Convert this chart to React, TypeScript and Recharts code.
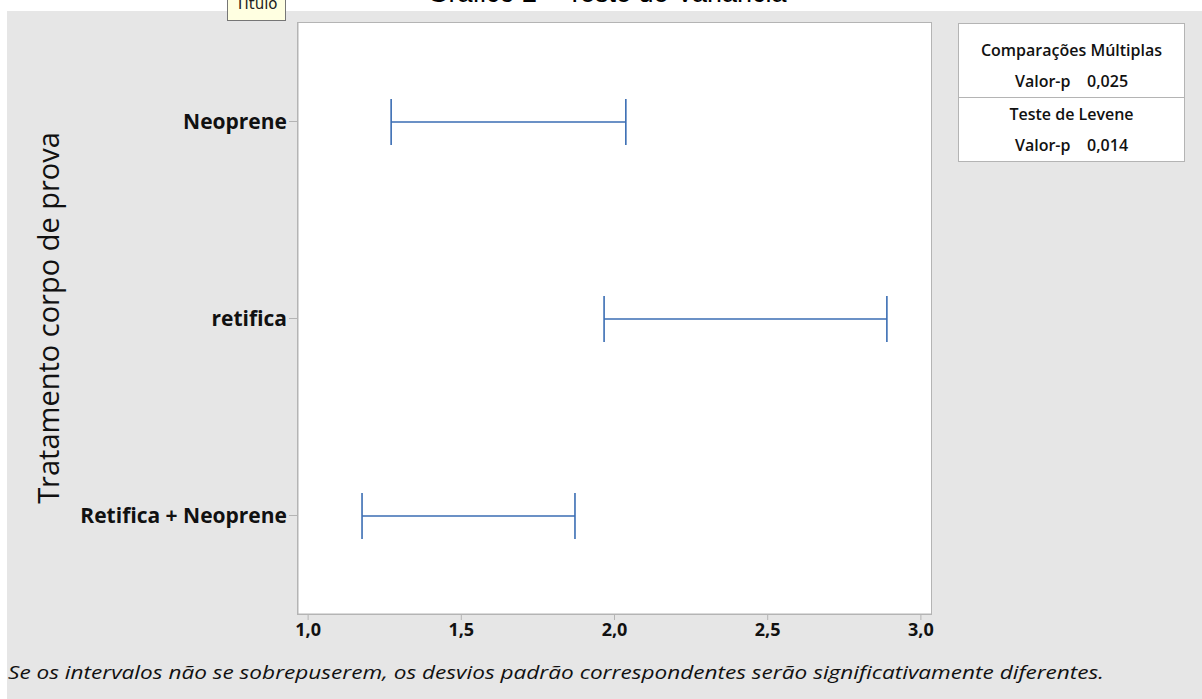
import React from "react";
import { ComposedChart, Bar, XAxis, YAxis } from "recharts";

// Intervalos de comparações múltiplas (desvio padrão)
const categories = ["Neoprene", "retifica", "Retifica + Neoprene"];
const lowerBounds = [1.271, 1.966, 1.176];
const upperBounds = [2.037, 2.889, 1.871];
const xTicks = [1.0, 1.5, 2.0, 2.5, 3.0];

const data = categories.map((name, i) => ({
  name,
  range: [lowerBounds[i], upperBounds[i]],
}));

const BLUE = "#3a6db3";
const FRAME = "#b4b4b4";
const FONT = "'Open Sans', 'Noto Sans', sans-serif";

/** Horizontal interval with end caps, drawn from the bar's geometry. */
function IntervalShape(props: any) {
  const { x, y, width, height } = props;
  const cy = y + height / 2;
  return (
    <g stroke={BLUE} strokeWidth={1.6} fill="none">
      <line x1={x} x2={x + width} y1={cy} y2={cy} />
      <line x1={x} x2={x} y1={y} y2={y + height} />
      <line x1={x + width} x2={x + width} y1={y} y2={y + height} />
    </g>
  );
}

const fmt = (v: number) => v.toFixed(1).replace(".", ",");

export default function App() {
  return (
    <div
      style={{
        position: "absolute",
        left: 0,
        top: 0,
        width: 1202,
        height: 699,
        background: "#fff",
        overflow: "hidden",
        fontFamily: FONT,
      }}
    >
      {/* gray panel */}
      <div
        style={{
          position: "absolute",
          left: 7,
          top: 11,
          width: 1195,
          height: 688,
          background: "#e6e6e6",
        }}
      />
      {/* title, cut off at top */}
      <div
        style={{
          position: "absolute",
          left: 0,
          width: 1202,
          top: -22,
          textAlign: "center",
          fontFamily: "'Liberation Sans', Arial, sans-serif",
          fontSize: 27,
          color: "#000",
          lineHeight: "30px",
          paddingLeft: 12,
          boxSizing: "border-box",
        }}
      >
        Gráfico 2 – Teste de Variância
      </div>
      {/* tooltip */}
      <div
        style={{
          position: "absolute",
          left: 227,
          top: -2,
          width: 59,
          height: 23,
          boxSizing: "border-box",
          background: "#ffffe1",
          border: "1px solid #767676",
          fontFamily: "'DejaVu Sans', sans-serif",
          fontSize: 15,
          lineHeight: "15px",
          textAlign: "center",
          color: "#222",
          overflow: "hidden",
        }}
      >
        <div style={{ marginTop: -2 }}>Título</div>
      </div>
      {/* plot frame */}
      <div
        style={{
          position: "absolute",
          left: 297,
          top: 22,
          width: 635,
          height: 593,
          boxSizing: "border-box",
          background: "#fff",
          border: `1px solid ${FRAME}`,
        }}
      />
      <div style={{ position: "absolute", left: 0, top: 0 }}>
        <ComposedChart
          width={1202}
          height={699}
          data={data}
          layout="vertical"
          margin={{ top: 23, right: 271, bottom: 55, left: 38 }}
        >
          <XAxis
            type="number"
            domain={[0.967, 3.033]}
            ticks={xTicks}
            allowDataOverflow
            tickFormatter={fmt}
            height={30}
            axisLine={{ stroke: FRAME }}
            tickLine={{ stroke: FRAME }}
            tickSize={6}
            tickMargin={3}
            tick={{ fill: "#111", fontSize: 18, fontWeight: 700, fontFamily: FONT }}
          />
          <YAxis
            type="category"
            dataKey="name"
            width={260}
            axisLine={{ stroke: FRAME }}
            tickLine={{ stroke: FRAME }}
            tickSize={9}
            tickMargin={2}
            tick={{ fill: "#111", fontSize: 21, fontWeight: 700, fontFamily: FONT }}
          />
          <Bar
            dataKey="range"
            barSize={46}
            shape={<IntervalShape />}
            isAnimationActive={false}
          />
        </ComposedChart>
      </div>
      {/* y axis title */}
      <svg
        style={{ position: "absolute", left: 0, top: 0 }}
        width={120}
        height={699}
      >
        <text
          x={47}
          y={318}
          transform="rotate(-90 47 318)"
          textAnchor="middle"
          dominantBaseline="central"
          fontFamily={FONT}
          fontSize={29}
          fill="#111"
        >
          Tratamento corpo de prova
        </text>
      </svg>
      {/* stats box */}
      <div
        style={{
          position: "absolute",
          left: 958,
          top: 23,
          width: 227,
          height: 139,
          boxSizing: "border-box",
          background: "#fff",
          border: `1px solid ${FRAME}`,
          fontSize: 16,
          fontWeight: 600,
          color: "#111",
          textAlign: "center",
        }}
      >
        <div style={{ height: 73, borderBottom: `1px solid ${FRAME}` }}>
          <div style={{ lineHeight: "20px", paddingTop: 16 }}>Comparações Múltiplas</div>
          <div style={{ lineHeight: "20px", marginTop: 11 }}>
            Valor-p&nbsp;&nbsp;&nbsp;&nbsp;0,025
          </div>
        </div>
        <div style={{ lineHeight: "20px", paddingTop: 6 }}>Teste de Levene</div>
        <div style={{ lineHeight: "20px", marginTop: 11 }}>
          Valor-p&nbsp;&nbsp;&nbsp;&nbsp;0,014
        </div>
      </div>
      {/* footer note */}
      <svg style={{ position: "absolute", left: 0, top: 650 }} width={1202} height={45}>
        <text
          x={8}
          y={29}
          fontFamily={FONT}
          fontStyle="italic"
          fontSize={19}
          fill="#111"
          textLength={1096}
          lengthAdjust="spacingAndGlyphs"
        >
          Se os intervalos não se sobrepuserem, os desvios padrão correspondentes serão significativamente diferentes.
        </text>
      </svg>
    </div>
  );
}
